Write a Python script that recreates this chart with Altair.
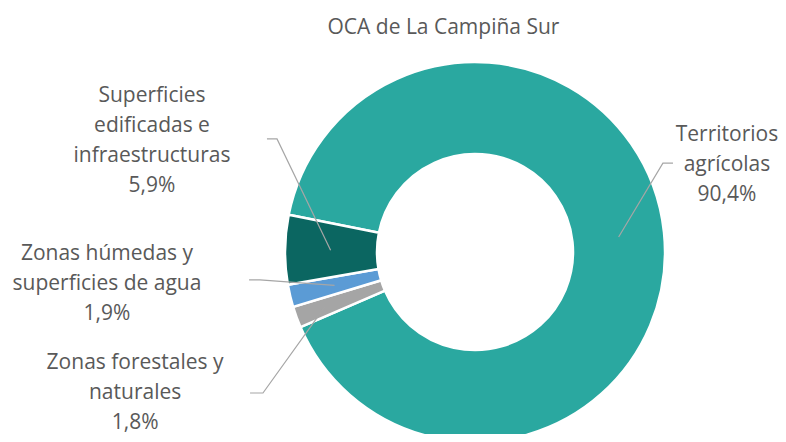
import math
import altair as alt
import pandas as pd

# ---- data ----
title_text = "OCA de La Campiña Sur"
categories = [
    "Territorios agrícolas",
    "Zonas forestales y naturales",
    "Zonas húmedas y superficies de agua",
    "Superficies edificadas e infraestructuras",
]
values = [90.4, 1.8, 1.9, 5.9]
pct_labels = ["90,4%", "1,8%", "1,9%", "5,9%"]
name_lines = [
    ["Territorios", "agrícolas"],
    ["Zonas forestales y", "naturales"],
    ["Zonas húmedas y", "superficies de agua"],
    ["Superficies", "edificadas e", "infraestructuras"],
]
colors = ["#2AA8A0", "#A5A5A5", "#5B9BD5", "#0B6661"]

# ---- layout (pixels / radius units) ----
W, H = 770, 426
CX, CY = 467, 244          # donut centre in plot pixels
R_OUT, R_IN = 190, 98
START_DEG = 281.3          # first slice starts here (clockwise from 12 o'clock)
FONT = "Open Sans"
TXT = "#595959"
FS = 21

# label anchors (first line) in radius units relative to the donut centre (y up)
label_pos = [(1.326, 0.616), (-1.789, -0.585), (-1.937, -0.011), (-1.700, 0.821)]
# leader line label-side end and elbow (radius units)
leader_end = [(1.042, 0.468), (-1.184, -0.742), (-1.189, -0.147), (-1.095, 0.595)]
leader_elbow = [(0.989, 0.468), (-1.116, -0.742), (-1.132, -0.147), (-1.042, 0.595)]
leader_r = [0.76, 0.84, 0.76, 0.76]
title_pos = (-0.166, 1.18)

xdom = [-CX / R_OUT, (W - CX) / R_OUT]
ydom = [-(H - CY) / R_OUT, CY / R_OUT]
xs = alt.Scale(domain=xdom, range=[0, W], nice=False, zero=False)
ys = alt.Scale(domain=ydom, range=[H, 0], nice=False, zero=False)

# ---- tables ----
pie = pd.DataFrame({"cat": categories, "value": values, "ord": list(range(len(values)))})

rows = []
cum = 0.0
for i, v in enumerate(values):
    a0 = START_DEG + cum * 3.6
    mid = math.radians(a0 + v * 1.8)
    cum += v
    r = leader_r[i]
    pts = [(r * math.sin(mid), r * math.cos(mid)), leader_elbow[i], leader_end[i]]
    for j, (px, py) in enumerate(pts):
        rows.append({"cat": categories[i], "seq": j, "x": px, "y": py})
leaders = pd.DataFrame(rows)

labels = pd.DataFrame({
    "cat": categories,
    "x": [p[0] for p in label_pos],
    "y": [p[1] for p in label_pos],
    "text": ["\n".join(n + [p]) for n, p in zip(name_lines, pct_labels)],
})

two_pi = 2 * math.pi
s = math.radians(START_DEG)

arc = alt.Chart(pie).mark_arc(
    outerRadius=R_OUT, innerRadius=R_IN, stroke="white", strokeWidth=2.5
).encode(
    theta=alt.Theta("value:Q", stack=True, scale=alt.Scale(domain=[0, 100], range=[s, s + two_pi])),
    color=alt.Color("cat:N", scale=alt.Scale(domain=categories, range=colors), legend=None),
    order=alt.Order("ord:Q"),
    x=alt.X(datum=0, type="quantitative", scale=xs, axis=None),
    y=alt.Y(datum=0, type="quantitative", scale=ys, axis=None),
)

lines = alt.Chart(leaders).mark_line(color="#A6A6A6", strokeWidth=1.2).encode(
    x=alt.X("x:Q", scale=xs, axis=None),
    y=alt.Y("y:Q", scale=ys, axis=None),
    detail="cat:N",
    order="seq:Q",
)

texts = alt.Chart(labels).mark_text(
    font=FONT, fontSize=FS, color=TXT, lineBreak="\n", lineHeight=30,
    align="center", baseline="middle",
).encode(
    x=alt.X("x:Q", scale=xs, axis=None),
    y=alt.Y("y:Q", scale=ys, axis=None),
    text="text:N",
)

title = alt.Chart(pd.DataFrame({"t": [title_text]})).mark_text(
    font=FONT, fontSize=FS, color=TXT, align="center", baseline="middle",
).encode(
    x=alt.X(datum=title_pos[0], type="quantitative", scale=xs, axis=None),
    y=alt.Y(datum=title_pos[1], type="quantitative", scale=ys, axis=None),
    text="t:N",
)

chart = alt.layer(arc, lines, texts, title).properties(
    width=W, height=H, autosize=alt.AutoSizeParams(type="none"), padding=0,
    background="white",
).configure_view(stroke=None)

chart.save("out.html", embed_options={"renderer": "svg", "actions": False})
